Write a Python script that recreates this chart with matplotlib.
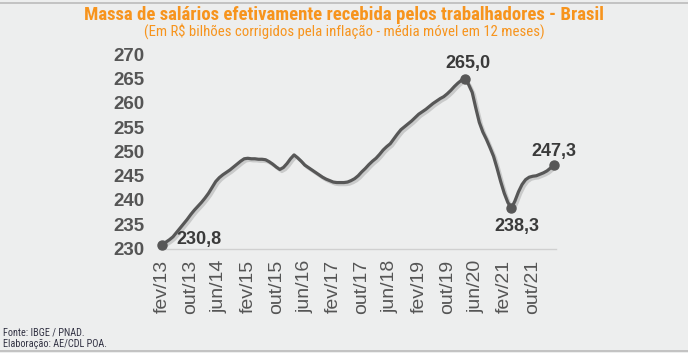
import matplotlib

matplotlib.use("Agg")

import matplotlib.pyplot as plt
import matplotlib.patheffects as pe
from matplotlib import font_manager


# 12-month moving average, fev/13 .. abr/22 (R$ billions)
massa = [
    230.8, 231.3, 231.8, 232.4, 233.3, 234.2, 235.1, 236.0, 237.0, 237.9,
    238.7, 239.5, 240.4, 241.4, 242.6, 243.8, 244.6, 245.2, 245.7, 246.2,
    246.8, 247.4, 248.0, 248.5, 248.6, 248.5, 248.5, 248.4, 248.4, 248.3,
    247.9, 247.4, 246.8, 246.3, 246.7, 247.5, 248.5, 249.3, 248.7, 248.0,
    247.2, 246.7, 246.2, 245.7, 245.2, 244.7, 244.3, 244.0, 243.7, 243.6,
    243.6, 243.6, 243.7, 244.0, 244.4, 245.0, 245.8, 246.5, 247.3, 248.0,
    248.6, 249.4, 250.3, 251.0, 251.6, 252.6, 253.6, 254.5, 255.1, 255.7,
    256.3, 257.0, 257.7, 258.2, 258.7, 259.3, 259.9, 260.4, 260.9, 261.3,
    261.9, 262.6, 263.4, 264.1, 264.7, 265.0, 263.8, 262.2, 259.0, 256.0,
    254.0, 252.5, 250.8, 249.0, 246.5, 243.8, 241.4, 239.5, 238.3, 239.8,
    241.7, 243.2, 244.2, 244.7, 244.9, 245.0, 245.3, 245.6, 246.0, 246.6,
    247.3,
]
tick_labels = [
    "fev/13", "out/13", "jun/14", "fev/15", "out/15", "jun/16", "fev/17",
    "out/17", "jun/18", "fev/19", "out/19", "jun/20", "fev/21", "out/21",
]
highlight = [0, 85, 98, 110]  # first, peak, trough, last

ORANGE = "#F7941D"
BG = "#EDEEEE"
LINE = "#575757"

# narrowest installed face for the condensed header/footer
installed = {f.name for f in font_manager.fontManager.ttflist}
NARROW = next(f for f in ["Roboto Condensed", "Liberation Sans Narrow", "Open Sans Condensed",
                          "Roboto", "Liberation Sans", "DejaVu Sans"] if f in installed)

x = list(range(len(massa)))

fig = plt.figure(figsize=(6.88, 3.53), dpi=100, facecolor=BG)
ax = fig.add_axes([158.7 / 688, (353 - 248.5) / 353, (555.9 - 158.7) / 688, 194 / 353])
ax.set_facecolor(BG)

shadow = [pe.SimpleLineShadow(offset=(1.5, -1.5), shadow_color="#888888", alpha=0.35),
          pe.Normal()]
ax.plot(x, massa, color=LINE, lw=2.3, solid_capstyle="round", path_effects=shadow,
        clip_on=False, zorder=3)
ax.plot([x[i] for i in highlight], [massa[i] for i in highlight], "o", color=LINE,
        ms=6.5, clip_on=False, zorder=4)

ax.set_xlim(-1, 110.5)
ax.set_ylim(230, 270)
ax.set_yticks(range(230, 271, 5))
ax.set_xticks(x[::8], tick_labels, rotation=90)
ax.tick_params(axis="y", length=0, pad=10.5, labelsize=13.5, labelcolor="#555555")
ax.tick_params(axis="x", length=0, pad=8, labelsize=14, labelcolor="#555555")
for lab in ax.get_yticklabels():
    lab.set_fontweight("bold")
    lab.set_family("Liberation Sans")
for lab in ax.get_xticklabels():
    lab.set_family("Liberation Sans")

for side in ["top", "right", "left"]:
    ax.spines[side].set_visible(False)
ax.spines["bottom"].set_color("#d0d0d0")
ax.spines["bottom"].set_linewidth(1)

lbl = dict(fontsize=13, fontweight="bold", color="#3a3a3a", family="Liberation Sans")
fmt = lambda v: f"{v:.1f}".replace(".", ",")
ax.annotate(fmt(massa[0]), (x[0], massa[0]), xytext=(10, 4), textcoords="offset points",
            ha="left", va="center", **lbl)
ax.annotate(fmt(massa[85]), (x[85], massa[85]), xytext=(2, 5), textcoords="offset points",
            ha="center", va="bottom", **lbl)
ax.annotate(fmt(massa[98]), (x[98], massa[98]), xytext=(4, -7), textcoords="offset points",
            ha="center", va="top", **lbl)
ax.annotate(fmt(massa[110]), (x[110], massa[110]), xytext=(0, 3), textcoords="offset points",
            ha="center", va="bottom", **lbl)

renderer = fig.canvas.get_renderer()


def fitted_text(xl, yc, s, width_px, size, ha="center", **kw):
    # size the text so that it spans the same width as in the reference
    t = fig.text(xl / 688, 1 - yc / 353, s, ha=ha, va="center", fontsize=size,
                 family=NARROW, **kw)
    w = t.get_window_extent(renderer).width
    t.set_fontsize(min(size * width_px / w, size * 1.3))
    return t


fitted_text(344, 15, "Massa de salários efetivamente recebida pelos trabalhadores - Brasil",
            523, 12, color=ORANGE, fontweight="bold")
fitted_text(344, 31, "(Em R$ bilhões corrigidos pela inflação - média móvel em 12 meses)",
            395, 8.5, color=ORANGE)
fitted_text(3, 332, "Fonte: IBGE / PNAD.", 82, 6.5, ha="left", color="#333344")
fitted_text(3, 344, "Elaboração: AE/CDL POA.", 104, 6.5, ha="left", color="#333344")

fig.add_artist(plt.Line2D([0, 1], [1 - 3 / 353, 1 - 3 / 353], color="#bbbbbb", lw=1.2))
fig.add_artist(plt.Line2D([0, 1], [1 - 351 / 353, 1 - 351 / 353], color="#bbbbbb", lw=1.2))

fig.savefig("out.png", dpi=100, facecolor=BG)
